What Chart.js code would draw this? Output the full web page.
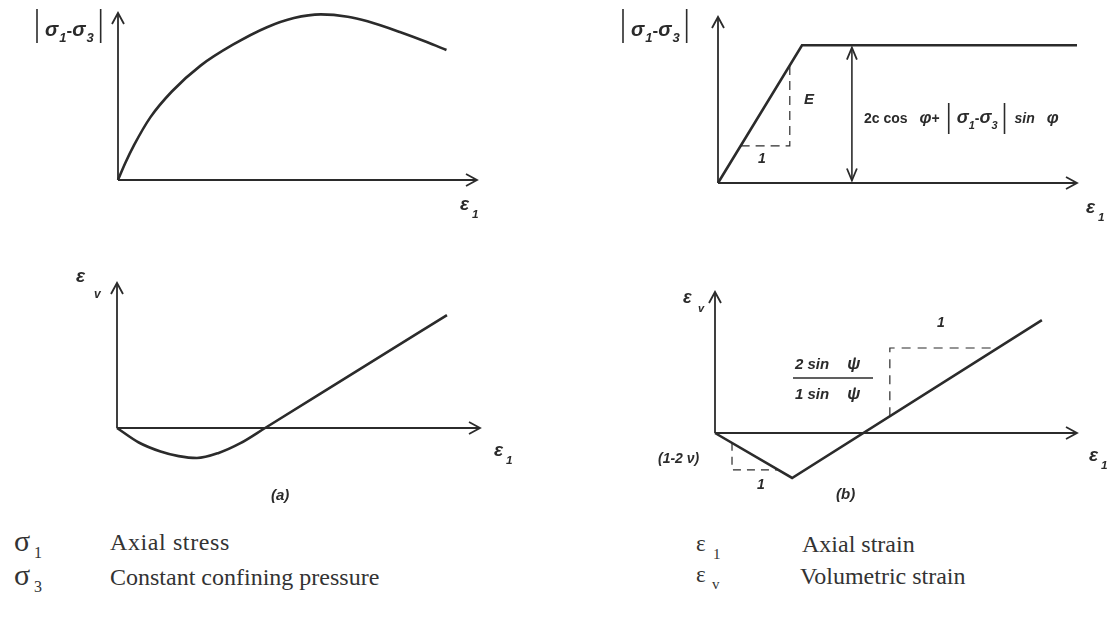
<!DOCTYPE html>
<html>
<head>
<meta charset="utf-8">
<script src="https://cdn.jsdelivr.net/npm/chart.js@4.4.0/dist/chart.umd.min.js"></script>
<style>
  body { margin: 0; background: #fff; }
  #page { position: relative; width: 1115px; height: 622px; overflow: hidden; background: #fff; }
  #page canvas { position: absolute; }
  .key { position: absolute; font-family: 'Liberation Serif', 'Times New Roman', serif; font-size: 24px; line-height: 24px; color: #333; white-space: nowrap; }
  .sym { position: absolute; font-family: 'Liberation Serif', serif; color: #333; white-space: nowrap; line-height: 1; }
</style>
</head>
<body>
<div id="page">
  <canvas id="stressA"></canvas>
  <canvas id="stressB"></canvas>
  <canvas id="volA"></canvas>
  <canvas id="volB"></canvas>

  <div class="sym" style="left:14px;top:526px;font-size:30px">σ</div>
  <div class="sym" style="left:34px;top:545px;font-size:16px">1</div>
  <div class="key" style="left:110px;top:530px;letter-spacing:0.6px">Axial stress</div>
  <div class="sym" style="left:14px;top:560px;font-size:30px">σ</div>
  <div class="sym" style="left:34px;top:579px;font-size:16px">3</div>
  <div class="key" style="left:110px;top:565px">Constant confining pressure</div>

  <div class="sym" style="left:696px;top:532px;font-size:23px">ε</div>
  <div class="sym" style="left:713px;top:547px;font-size:15px">1</div>
  <div class="key" style="left:802px;top:532px">Axial strain</div>
  <div class="sym" style="left:696px;top:563px;font-size:23px">ε</div>
  <div class="sym" style="left:712px;top:577px;font-size:15px">v</div>
  <div class="key" style="left:800px;top:564px">Volumetric strain</div>
</div>
<script>
// axes run from 0 to AXIS_MAX in both directions on every panel
const AXIS_MAX = 10;

// (a) hardening/softening curve: deviator stress vs axial strain
const strainA = [0, 0.2, 0.45, 0.9, 1.5, 2.3, 3.2, 4.15, 4.9, 5.65, 6.4, 6.95, 7.85, 8.6, 9.15];
const devStressA = [0, 1.0, 2.1, 3.75, 5.3, 6.85, 8.1, 9.15, 9.7, 9.92, 9.78, 9.5, 8.86, 8.26, 7.78];

// (a) volumetric strain: contraction first, then dilation
const strainVolA = [0, 0.6, 1.2, 1.7, 2.2, 2.8, 3.4, 4.08, 6.58, 9.09];
const volStrainA = [0, -1.0, -1.62, -1.94, -2.07, -1.72, -1.05, 0, 3.89, 7.79];

// (b) linear elastic – perfectly plastic
const strainB = [0, 2.34, 10];
const devStressB = [0, 8.3, 8.3];
const yieldMarkerX = 3.73;            // where the failure stress arrow sits
const slopeTriangleB = [0.63, 2.0];   // x-range of the "E" slope triangle

// (b) volumetric strain: elastic contraction then constant dilation
const strainVolB = [0, 2.13, 9.03];
const volStrainB = [0, -3.19, 8.01];
const elasticTriangle = [0.47, -0.70, -2.62];   // x, top y, bottom y
const dilationTriangle = [4.83, 6.03];          // x, y of the dashed corner

const INK = '#2b2b2b';
const LABEL_FONT = "'Liberation Sans', Arial, sans-serif";

const pts = (xs, ys) => xs.map((x, i) => ({ x: x, y: ys[i] }));

// open "V" arrowhead
function arrowHead(ctx, tip, from, len, half) {
  const a = Math.atan2(tip.y - from.y, tip.x - from.x);
  const spread = Math.atan2(half, len);
  const l = Math.hypot(len, half);
  ctx.beginPath();
  ctx.moveTo(tip.x - l * Math.cos(a - spread), tip.y - l * Math.sin(a - spread));
  ctx.lineTo(tip.x, tip.y);
  ctx.lineTo(tip.x - l * Math.cos(a + spread), tip.y - l * Math.sin(a + spread));
  ctx.stroke();
}

// text made of runs: {t, size, dy, bold} | {bar: height} | {gap} | {rule: width}, from baseline (x, y)
function drawRuns(ctx, x, y, runs) {
  let cx = x;
  runs.forEach(r => {
    if (r.gap) { cx += r.gap; return; }
    if (r.rule) {
      ctx.lineWidth = 1.4;
      ctx.beginPath();
      ctx.moveTo(cx, y + (r.dy || 0));
      ctx.lineTo(cx + r.rule, y + (r.dy || 0));
      ctx.stroke();
      return;
    }
    if (r.bar) {
      ctx.lineWidth = 1.6;
      ctx.beginPath();
      ctx.moveTo(cx + 1, y + (r.dy || 0) - r.bar);
      ctx.lineTo(cx + 1, y + (r.dy || 0));
      ctx.stroke();
      cx += 3;
      return;
    }
    ctx.font = (r.upright ? '' : 'italic ') + (r.bold ? 'bold ' : '') + r.size + 'px ' + LABEL_FONT;
    ctx.fillText(r.t, cx, y + (r.dy || 0));
    cx += ctx.measureText(r.t).width;
  });
}

const diagramPlugin = {
  id: 'diagram',
  afterDatasetsDraw(chart, args, opts) {
    const ctx = chart.ctx;
    const ox = chart.scales.x.getPixelForValue(0);
    const oy = chart.scales.y.getPixelForValue(0);
    ctx.save();
    ctx.strokeStyle = INK;
    ctx.fillStyle = INK;
    ctx.lineWidth = 1.8;
    chart.data.datasets.forEach((ds, i) => {
      if (!ds.arrow) return;
      const p = chart.getDatasetMeta(i).data;
      const n = p.length;
      arrowHead(ctx, p[n - 1], p[n - 2], ds.arrowLen || 11, ds.arrowHalf || 6);
      if (ds.arrow === 'both') arrowHead(ctx, p[0], p[1], ds.arrowLen || 11, ds.arrowHalf || 6);
    });
    ctx.textBaseline = 'alphabetic';
    (opts.labels || []).forEach(l => drawRuns(ctx, ox + l.dx, oy + l.dy, l.runs));
    ctx.restore();
  }
};

const axisSets = () => [
  { data: [{ x: 0, y: 0 }, { x: AXIS_MAX, y: 0 }], borderWidth: 2, arrow: 'end' },
  { data: [{ x: 0, y: 0 }, { x: 0, y: AXIS_MAX }], borderWidth: 1.8, arrow: 'end' }
];

const sigmaPair = (size, barH) => [
  { bar: barH, dy: 7 }, { gap: 6 },
  { t: 'σ', size: size, bold: true }, { gap: 1 }, { t: '1', size: size * 0.65, dy: 6, bold: true },
  { t: '-', size: size * 0.85, bold: true, upright: true },
  { t: 'σ', size: size, bold: true }, { gap: 1 }, { t: '3', size: size * 0.65, dy: 6, bold: true },
  { gap: 6 }, { bar: barH, dy: 7 }
];
const eps = (sub, size) => [
  { t: 'ε', size: size, bold: true }, { gap: 3 }, { t: sub, size: size * 0.62, dy: 8, bold: true }
];

function makePanel(id, frame, datasets, labels) {
  const canvas = document.getElementById(id);
  canvas.width = frame.width;
  canvas.height = frame.height;
  canvas.style.left = frame.left + 'px';
  canvas.style.top = frame.top + 'px';
  const sx = (frame.xTip - frame.ox) / AXIS_MAX;
  const sy = (frame.oy - frame.yTip) / AXIS_MAX;
  return new Chart(canvas, {
    type: 'scatter',
    data: {
      datasets: axisSets().concat(datasets).map(ds => Object.assign({
        showLine: true,
        borderColor: INK,
        pointRadius: 0,
        pointHoverRadius: 0,
        fill: false
      }, ds))
    },
    options: {
      responsive: false,
      animation: false,
      events: [],
      layout: { padding: 0 },
      scales: {
        x: { type: 'linear', display: false, min: -(frame.ox - frame.left) / sx, max: (frame.left + frame.width - frame.ox) / sx },
        y: { type: 'linear', display: false, min: -(frame.top + frame.height - frame.oy) / sy, max: (frame.oy - frame.top) / sy }
      },
      plugins: {
        legend: { display: false },
        tooltip: { enabled: false },
        diagram: { labels: labels }
      }
    },
    plugins: [diagramPlugin]
  });
}

// top left: (a) stress–strain
makePanel('stressA',
  { left: 0, top: 0, width: 560, height: 240, ox: 118, oy: 180, xTip: 477, yTip: 13 },
  [{ data: pts(strainA, devStressA), borderWidth: 2.6, cubicInterpolationMode: 'monotone' }],
  [
    { dx: -82, dy: -144, runs: sigmaPair(20, 34) },
    { dx: 342, dy: 30, runs: eps('1', 19) }
  ]);

// top right: (b) stress–strain
const slopeB = devStressB[1] / strainB[1];
makePanel('stressB',
  { left: 560, top: 0, width: 555, height: 240, ox: 718, oy: 183, xTip: 1077, yTip: 17 },
  [
    { data: pts(strainB, devStressB), borderWidth: 2.6 },
    { data: [{ x: yieldMarkerX, y: 0.15 }, { x: yieldMarkerX, y: devStressB[1] - 0.15 }], borderWidth: 1.6, arrow: 'both', arrowLen: 12, arrowHalf: 5 },
    { data: [{ x: slopeTriangleB[0], y: slopeB * slopeTriangleB[0] }, { x: slopeTriangleB[1], y: slopeB * slopeTriangleB[0] }, { x: slopeTriangleB[1], y: slopeB * slopeTriangleB[1] }], borderWidth: 1.2, borderDash: [9, 6] }
  ],
  [
    { dx: -96, dy: -147, runs: sigmaPair(20, 34) },
    { dx: 368, dy: 30, runs: eps('1', 19) },
    { dx: 86, dy: -79, runs: [{ t: 'E', size: 15, bold: true }] },
    { dx: 40, dy: -20, runs: [{ t: '1', size: 14, bold: true }] },
    { dx: 146, dy: -60, runs: [
      { t: '2c cos', size: 14, bold: true, upright: true }, { gap: 12 }, { t: 'φ', size: 17, bold: true },
      { t: '+', size: 14, bold: true, upright: true }, { gap: 8 },
      { bar: 31, dy: 11 }, { gap: 6 },
      { t: 'σ', size: 18, bold: true }, { t: '1', size: 11, dy: 6, bold: true },
      { t: '-', size: 14, bold: true, upright: true },
      { t: 'σ', size: 18, bold: true }, { t: '3', size: 11, dy: 6, bold: true },
      { gap: 6 }, { bar: 31, dy: 11 }, { gap: 8 },
      { t: 'sin', size: 14, bold: true }, { gap: 12 }, { t: 'φ', size: 17, bold: true }
    ] }
  ]);

// bottom left: (a) volumetric strain
makePanel('volA',
  { left: 0, top: 240, width: 560, height: 280, ox: 117, oy: 428, xTip: 480, yTip: 283 },
  [{ data: pts(strainVolA, volStrainA), borderWidth: 2.6, cubicInterpolationMode: 'monotone' }],
  [
    { dx: -41, dy: -146, runs: [{ t: 'ε', size: 19, bold: true }] },
    { dx: -23, dy: -130, runs: [{ t: 'v', size: 12, bold: true }] },
    { dx: 377, dy: 28, runs: eps('1', 19) },
    { dx: 154, dy: 72, runs: [{ t: '(a)', size: 15, bold: true }] }
  ]);

// bottom right: (b) volumetric strain
const eSlope = volStrainB[1] / strainVolB[1];
const dSlope = (volStrainB[2] - volStrainB[1]) / (strainVolB[2] - strainVolB[1]);
makePanel('volB',
  { left: 560, top: 240, width: 555, height: 280, ox: 715, oy: 433, xTip: 1077, yTip: 292 },
  [
    { data: pts(strainVolB, volStrainB), borderWidth: 2.6 },
    { data: [{ x: elasticTriangle[0], y: elasticTriangle[1] }, { x: elasticTriangle[0], y: elasticTriangle[2] }, { x: elasticTriangle[2] / eSlope, y: elasticTriangle[2] }], borderWidth: 1.2, borderDash: [8, 6] },
    { data: [{ x: dilationTriangle[0], y: volStrainB[1] + (dilationTriangle[0] - strainVolB[1]) * dSlope }, { x: dilationTriangle[0], y: dilationTriangle[1] }, { x: strainVolB[1] + (dilationTriangle[1] - volStrainB[1]) / dSlope, y: dilationTriangle[1] }], borderWidth: 1.2, borderDash: [9, 7] }
  ],
  [
    { dx: -32, dy: -130, runs: [{ t: 'ε', size: 18, bold: true }] },
    { dx: -17, dy: -121, runs: [{ t: 'v', size: 11, bold: true }] },
    { dx: 374, dy: 28, runs: eps('1', 19) },
    { dx: 80, dy: -64, runs: [{ t: '2 sin', size: 15, bold: true }, { gap: 18 }, { t: 'ψ', size: 17, bold: true }] },
    { dx: 78, dy: -55, runs: [{ rule: 80 }] },
    { dx: 80, dy: -34, runs: [{ t: '1 sin', size: 15, bold: true }, { gap: 18 }, { t: 'ψ', size: 17, bold: true }] },
    { dx: 222, dy: -106, runs: [{ t: '1', size: 14, bold: true }] },
    { dx: -57, dy: 30, runs: [{ t: '(1-2 ', size: 14, bold: true }, { t: 'ν', size: 14, bold: true }, { t: ')', size: 14, bold: true }] },
    { dx: 42, dy: 56, runs: [{ t: '1', size: 14, bold: true }] },
    { dx: 121, dy: 66, runs: [{ t: '(b)', size: 15, bold: true }] }
  ]);
</script>
</body>
</html>
